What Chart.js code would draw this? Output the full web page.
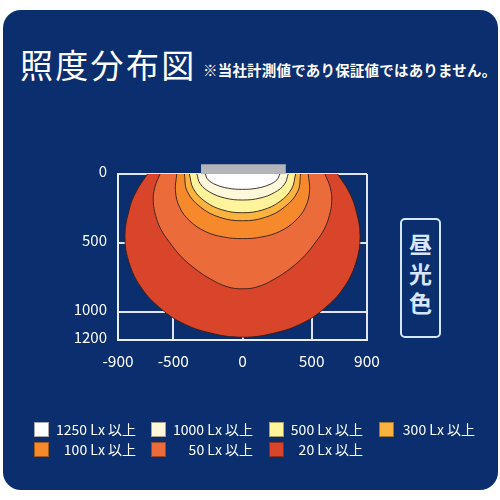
<!DOCTYPE html>
<html><head><meta charset="utf-8">
<script src="https://cdn.jsdelivr.net/npm/chart.js@4"></script>
<style>
html,body{margin:0;padding:0;background:#fff;width:500px;height:500px;overflow:hidden;font-family:"Noto Sans CJK JP",sans-serif;}
#panel{position:absolute;left:3px;top:10px;width:495px;height:480px;background:#0a2e6e;border-radius:18px;}
#title{position:absolute;left:20px;top:48px;color:#fff;font-size:33px;line-height:33px;letter-spacing:2.3px;white-space:nowrap;}
#sub{position:absolute;left:203px;top:63px;color:#fff;font-size:14.5px;line-height:14.5px;letter-spacing:0.2px;white-space:nowrap;font-weight:bold;}
#tag{position:absolute;left:400px;top:218px;width:37px;height:107px;border:2.5px solid #d6e6ff;border-radius:5px;color:#d6e6ff;font-size:23px;line-height:29.5px;text-align:center;padding-top:9px;box-sizing:content-box;font-weight:bold;}
#tag span{display:block;}
canvas{position:absolute;left:0;top:0;}
.sw{position:absolute;width:13px;height:13px;border:1px solid rgba(0,0,0,.35);}
.lt{position:absolute;color:#fff;font-size:14px;line-height:14px;white-space:nowrap;text-align:right;}
</style></head>
<body>
<div id="panel"></div>
<div id="title">照度分布図</div>
<div id="sub">※当社計測値であり保証値ではありません。</div>
<div id="tag"><span>昼</span><span>光</span><span>色</span></div>
<canvas id="c" width="500" height="500"></canvas>
<div id="legend"></div>
<script>
// ---- data ----
const levelLabels = ['1250 Lx 以上','1000 Lx 以上','500 Lx 以上','300 Lx 以上','100 Lx 以上','50 Lx 以上','20 Lx 以上'];
const levelColors = ['#ffffff','#fff8da','#fff39c','#fbb340','#f5892c','#ec6b3b','#d8452a'];

// contour outlines (x mm, y mm)
const c1250X = [-270,-249,-191,-103,0,103,191,249,270];
const c1250Y = [0,42,78,103,111,103,78,42,0];
const c1000X = [-330,-305,-233,-126,0,126,233,305,330];
const c1000Y = [0,72,133,174,188,174,133,72,0];
const c500X  = [-384,-355,-271,-147,0,147,271,355,384];
const c500Y  = [0,107,198,259,280,259,198,107,0];
const c300X  = [-420,-400,-305,-165,0,165,305,400,420];
const c300Y  = [0,125,238,313,338,313,238,125,0];
const c100X  = [-475,-485,-455,-380,-270,-140,0,140,270,380,455,485,475];
const c100Y  = [0,120,240,340,415,455,467,455,415,340,240,120,0];
const c50X   = [-596,-635,-645,-628,-590,-530,-450,-350,-230,-110,0,110,230,350,450,530,590,628,645,635,596];
const c50Y   = [0,100,200,300,400,490,590,680,760,815,830,815,760,680,590,490,400,300,200,100,0];
const c20X   = [-687,-765,-817,-850,-817,-726,-600,-440,-230,0,230,440,600,726,817,850,817,765,687];
const c20Y   = [0,120,250,450,650,830,965,1075,1150,1180,1150,1075,965,830,650,450,250,120,0];

const contourX = [c1250X,c1000X,c500X,c300X,c100X,c50X,c20X];
const contourY = [c1250Y,c1000Y,c500Y,c300Y,c100Y,c50Y,c20Y];

const lampX = [-300, 313];
const lampY = [-35, -35];

const xTicks = [-900,-500,0,500,900];
const yTicks = [0,500,1000,1200];

// ---- chart ----
const FONT = '"Noto Sans CJK JP", sans-serif';
const gridC = 'rgba(236,239,246,0.95)';

const datasets = levelLabels.map((lab,i)=>({
  label: lab,
  data: contourX[i].map((x,k)=>({x:x, y:contourY[i][k]})),
  backgroundColor: levelColors[i],
  borderColor: 'rgba(50,32,28,0.9)',
  borderWidth: 1,
  fill: 'shape',
  tension: 0.4,
  pointRadius: 0
}));
datasets.push({
  label:'lamp',
  data: lampX.map((x,k)=>({x:x, y:lampY[k]})),
  borderColor:'#b4b5ba',
  borderWidth:10,
  borderCapStyle:'butt',
  fill:false,
  tension:0,
  pointRadius:0,
  clip:false
});

new Chart(document.getElementById('c'), {
  type:'line',
  data:{datasets},
  options:{
    responsive:false,
    animation:false,
    devicePixelRatio:1,
    layout:{padding:{left:60,right:133,top:174,bottom:130}},
    plugins:{legend:{display:false},tooltip:{enabled:false}},
    scales:{
      x:{
        type:'linear', min:-900, max:900, z:1,
        afterBuildTicks:s=>{s.ticks = xTicks.map(v=>({value:v}));},
        afterFit:s=>{s.height=30;},
        grid:{color:gridC,lineWidth:2,drawTicks:false},
        border:{color:gridC,width:2},
        ticks:{color:'#fff',font:{family:FONT,size:15.5},padding:12,autoSkip:false,maxRotation:0,callback:v=>String(v)}
      },
      y:{
        type:'linear', min:0, max:1200, reverse:true, z:1,
        afterBuildTicks:s=>{s.ticks = yTicks.map(v=>({value:v}));},
        afterFit:s=>{s.width=58;},
        grid:{color:gridC,lineWidth:2,drawTicks:false},
        border:{color:gridC,width:2},
        ticks:{color:'#fff',font:{family:FONT,size:15},padding:11,autoSkip:false,labelOffset:-3,callback:v=>String(v)}
      }
    }
  }
});

// ---- legend (html) ----
const swLeft = [34,151,269,379];
const txtRight = [136,253,363,475];
const rowTop = [422,442];
const leg = document.getElementById('legend');
levelLabels.forEach((lab,i)=>{
  const r = Math.floor(i/4), c = i%4;
  const sw = document.createElement('div');
  sw.className='sw';
  sw.style.left = swLeft[c]+'px';
  sw.style.top = (rowTop[r])+'px';
  sw.style.background = levelColors[i];
  leg.appendChild(sw);
  const t = document.createElement('div');
  t.className='lt';
  t.textContent = lab;
  t.style.right = (500-txtRight[c])+'px';
  t.style.top = (rowTop[r]-0.5)+'px';
  leg.appendChild(t);
});
</script>
</body></html>
